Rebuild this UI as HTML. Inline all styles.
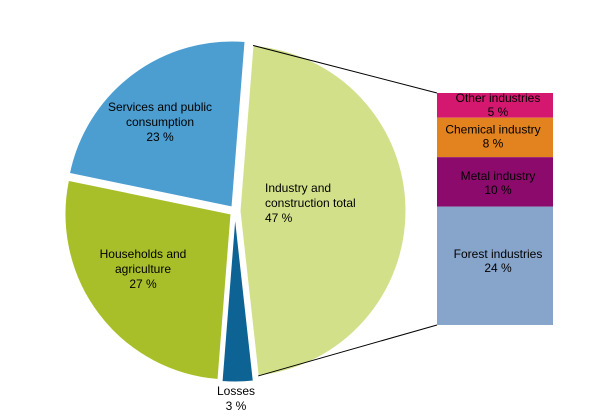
<!DOCTYPE html>
<html><head><meta charset="utf-8"><style>
body{margin:0;background:#fff;width:605px;height:416px;overflow:hidden}
svg{display:block;font-family:"Liberation Sans",Arial,sans-serif;font-size:12px}
</style></head><body>
<svg id="chart" width="605" height="416" viewBox="0 0 605 416"></svg>
<script>
const sliceLabels = [["Industry and","construction total"],["Losses"],["Households and","agriculture"],["Services and public","consumption"]];
const sliceValues = [47, 3, 27, 23];
const sliceColors = ["#d3e08a","#0d6393","#a9bf2a","#4c9dd0"];
const sliceNames = ["slice-industry","slice-losses","slice-households","slice-services"];
const barLabels = ["Other industries","Chemical industry","Metal industry","Forest industries"];
const barValues = [5, 8, 10, 24];
const barColors = ["#d4186f","#e2831f","#8c0a6c","#87a4ca"];
const barNames = ["bar-other-industries","bar-chemical-industry","bar-metal-industry","bar-forest-industries"];

const NS="http://www.w3.org/2000/svg";
const svg=document.getElementById('chart');
const cx=235, cy=211, r=166, explode=5, startDeg=4.5;
function mk(tag,attrs){const e=document.createElementNS(NS,tag);for(const k in attrs)e.setAttribute(k,attrs[k]);svg.appendChild(e);return e;}
function pt(ox,oy,deg,rad){const a=(deg-90)*Math.PI/180;return [ox+rad*Math.cos(a),oy+rad*Math.sin(a)];}
const total=sliceValues.reduce((a,b)=>a+b,0);
let ang=startDeg;
const labelPos=[[265,"start"],[236,"middle"],[143,"middle"],[160,"middle"]];
const labelY=[192,395,258,111];
let indStart,indEnd;
sliceValues.forEach((v,i)=>{
  const sweep=v/total*360, mid=ang+sweep/2;
  const [ox,oy]=pt(cx,cy,mid,explode);
  const p1=pt(ox,oy,ang,r), p2=pt(ox,oy,ang+sweep,r);
  if(i===0){indStart=p1;indEnd=p2;}
  const p=mk('path',{d:`M${ox},${oy}L${p1[0]},${p1[1]}A${r},${r} 0 ${sweep>180?1:0} 1 ${p2[0]},${p2[1]}Z`,fill:sliceColors[i],stroke:'#fff','stroke-width':1});
  
  
  ang+=sweep;
});
sliceValues.forEach((v,i)=>{
  const lines=sliceLabels[i].concat([v+" %"]);
  const [x,anchor]=labelPos[i];
  const t=mk('text',{x:x,y:labelY[i],'text-anchor':anchor,fill:'#000'});
  
  
  lines.forEach((l,j)=>{const s=document.createElementNS(NS,'tspan');s.setAttribute('x',x);s.setAttribute('dy',j?15:0);s.textContent=l;t.appendChild(s);});
});
// bar
const bx=437,bw=116,by=93,bh=232;
const barTotal=barValues.reduce((a,b)=>a+b,0);
const barLabelDy=[9,16,23,0];
let y=by;
barValues.forEach((v,i)=>{
  const h=v/barTotal*bh;
  const rc=mk('rect',{x:bx,y:y,width:bw,height:h,fill:barColors[i]});
  
  
  const tx=i===1?bx+bw/2-2:bx+bw/2+3;
  const ty=i===3?y+h/2-8:y+barLabelDy[i];
  const t=mk('text',{x:tx,y:ty,'text-anchor':'middle',fill:'#000'});
  
  
  [barLabels[i],v+" %"].forEach((l,j)=>{const s=document.createElementNS(NS,'tspan');s.setAttribute('x',tx);s.setAttribute('dy',j?14:0);s.textContent=l;t.appendChild(s);});
  y+=h;
});
const l1=mk('line',{x1:indStart[0],y1:indStart[1],x2:bx,y2:by,stroke:'#000','stroke-width':1});


const l2=mk('line',{x1:indEnd[0],y1:indEnd[1],x2:bx,y2:by+bh,stroke:'#000','stroke-width':1});


</script>
</body></html>
